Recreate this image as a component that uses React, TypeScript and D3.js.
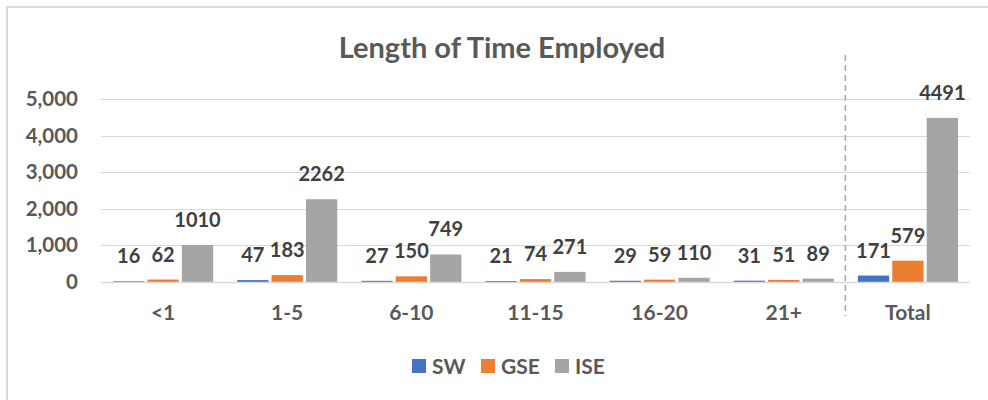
import React, { useEffect, useRef } from "react";
import * as d3 from "d3";

const categories = ["<1", "1-5", "6-10", "11-15", "16-20", "21+", "Total"];
const seriesNames = ["SW", "GSE", "ISE"];
const swValues = [16, 47, 27, 21, 29, 31, 171];
const gseValues = [62, 183, 150, 74, 59, 51, 579];
const iseValues = [1010, 2262, 749, 271, 110, 89, 4491];
const yTicks = [0, 1000, 2000, 3000, 4000, 5000];
const colors = ["#4472C4", "#ED7D31", "#A5A5A5"];

const W = 988;
const H = 400;
const FONT = "Lato, 'Open Sans', sans-serif";

export default function App() {
  const svgRef = useRef<SVGSVGElement | null>(null);

  useEffect(() => {
    draw();
  }, []);

  const draw = () => {
    const svg = d3.select(svgRef.current);
    svg.selectAll("*").remove();

    const left = 101;
    const right = 970;
    const top = 99.3;
    const bottom = 281.8;
    const series = [swValues, gseValues, iseValues];

    // frame: only left and top edges are visible in the crop
    svg
      .append("path")
      .attr("d", `M7,${H} V7 H${W}`)
      .attr("fill", "none")
      .attr("stroke", "#d9d9d9")
      .attr("stroke-width", 2);

    // title
    svg
      .append("text")
      .attr("x", 502)
      .attr("y", 58)
      .attr("text-anchor", "middle")
      .style("font-family", FONT)
      .style("font-weight", "bold")
      .style("font-size", "29px")
      .attr("fill", "#595959")
      .text("Length of Time Employed");

    const x = d3.scaleBand<string>().domain(categories).range([left, right]);
    const inner = d3
      .scaleBand<number>()
      .domain(d3.range(series.length))
      .range([12, x.bandwidth() - 12])
      .paddingInner(0.09);
    const y = d3.scaleLinear().domain([0, 5000]).range([bottom, top]);

    // gridlines and tick labels
    svg
      .append("g")
      .selectAll("line")
      .data(yTicks)
      .enter()
      .append("line")
      .attr("x1", left)
      .attr("x2", right)
      .attr("y1", (d) => Math.round(y(d)) + 0.5)
      .attr("y2", (d) => Math.round(y(d)) + 0.5)
      .attr("stroke", "#d9d9d9")
      .attr("stroke-width", (d) => (d === 0 ? 1.5 : 1.2));

    svg
      .append("g")
      .selectAll("text")
      .data(yTicks)
      .enter()
      .append("text")
      .attr("x", 78)
      .attr("y", (d) => y(d) + 7)
      .attr("text-anchor", "end")
      .style("font-family", FONT)
      .style("font-weight", "bold")
      .style("font-size", "20.5px")
      .attr("fill", "#595959")
      .text((d) => d3.format(",")(d));

    // bars
    series.forEach((vals, s) => {
      const g = svg.append("g");
      g.selectAll("rect")
        .data(vals)
        .enter()
        .append("rect")
        .attr("x", (d, i) => (x(categories[i]) as number) + (inner(s) as number))
        .attr("y", (d) => y(d))
        .attr("width", inner.bandwidth())
        .attr("height", (d) => bottom - y(d))
        .attr("fill", colors[s]);

      g.selectAll("text")
        .data(vals)
        .enter()
        .append("text")
        .attr(
          "x",
          (d, i) =>
            (x(categories[i]) as number) + (inner(s) as number) + inner.bandwidth() / 2
        )
        .attr("y", (d) => y(d) - 18)
        .attr("text-anchor", "middle")
        .style("font-family", FONT)
        .style("font-weight", "bold")
        .style("font-size", "20px")
        .attr("fill", "#404040")
        .text((d) => d);
    });

    // category labels
    svg
      .append("g")
      .selectAll("text")
      .data(categories)
      .enter()
      .append("text")
      .attr("x", (d) => (x(d) as number) + x.bandwidth() / 2)
      .attr("y", 320)
      .attr("text-anchor", "middle")
      .style("font-family", FONT)
      .style("font-weight", "bold")
      .style("font-size", "21px")
      .attr("fill", "#595959")
      .text((d) => d);

    // dashed separator before Total
    const sepX = x("Total") as number;
    svg
      .append("line")
      .attr("x1", sepX - 0.5)
      .attr("x2", sepX - 0.5)
      .attr("y1", 55)
      .attr("y2", 316)
      .attr("stroke", "#a6a6a6")
      .attr("stroke-width", 1.5)
      .attr("stroke-dasharray", "6,4");

    // legend
    const legendX = [412, 481, 555];
    const legend = svg
      .append("g")
      .selectAll("g")
      .data(seriesNames)
      .enter()
      .append("g")
      .attr("transform", (d, i) => `translate(${legendX[i]},359)`);
    legend
      .append("rect")
      .attr("width", 14)
      .attr("height", 14)
      .attr("fill", (d, i) => colors[i]);
    legend
      .append("text")
      .attr("x", 20)
      .attr("y", 14.5)
      .style("font-family", FONT)
      .style("font-weight", "bold")
      .style("font-size", "21px")
      .attr("fill", "#595959")
      .text((d) => d);
  };

  return (
    <svg
      ref={svgRef}
      width={W}
      height={H}
      style={{ position: "absolute", left: 0, top: 0 }}
    />
  );
}
